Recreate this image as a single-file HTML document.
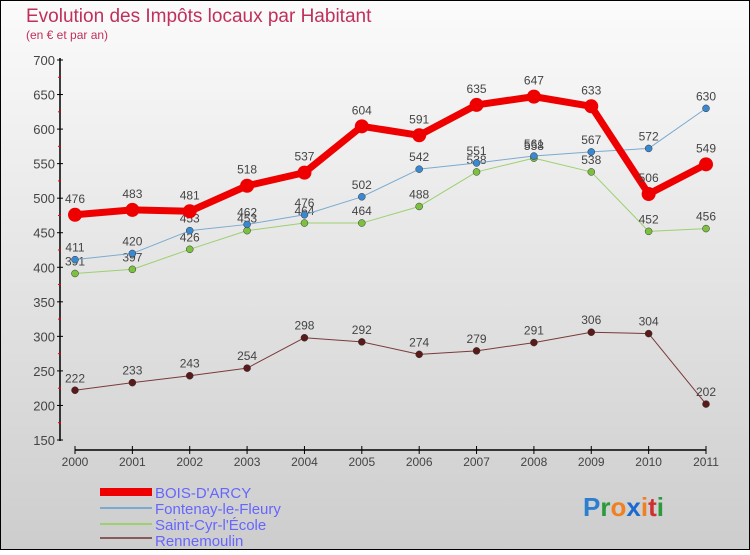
<!DOCTYPE html>
<html><head><meta charset="utf-8"><style>
body{margin:0;width:750px;height:550px;overflow:hidden;font-family:"Liberation Sans",sans-serif}
</style></head><body>
<svg id="c" width="750" height="550" xmlns="http://www.w3.org/2000/svg">
<defs><linearGradient id="bg" x1="0" y1="0" x2="0" y2="1"><stop offset="0" stop-color="#fbfbfb"/><stop offset="1" stop-color="#cdcdcd"/></linearGradient></defs>
<rect x="0.5" y="0.5" width="749" height="549" fill="url(#bg)" stroke="#000" stroke-width="1"/>
<text x="26" y="22" font-size="19" fill="#c0305a">Evolution des Impôts locaux par Habitant</text>
<text x="26" y="39" font-size="12" fill="#c0305a">(en € et par an)</text>
<g id="axes"></g><g id="series"></g>
<g font-size="15" fill="#6666ff">
<rect x="100" y="488" width="52" height="8" fill="#e00"/>
<text x="155" y="498">BOIS-D'ARCY</text>
<line x1="100" y1="508" x2="152" y2="508" stroke="#7aaad0" stroke-width="2"/>
<text x="155" y="514">Fontenay-le-Fleury</text>
<line x1="100" y1="524" x2="152" y2="524" stroke="#9cd070" stroke-width="2"/>
<text x="155" y="530">Saint-Cyr-l'École</text>
<line x1="100" y1="538" x2="152" y2="538" stroke="#8a5a5a" stroke-width="2"/>
<text x="155" y="546">Rennemoulin</text>
</g>
<g font-size="26" font-weight="bold">
<text x="583" y="516"><tspan fill="#2a7fd0">P</tspan><tspan fill="#2a9a3a">r</tspan><tspan fill="#f08020">o</tspan><tspan fill="#1a6ad0">x</tspan><tspan fill="#f08020">i</tspan><tspan fill="#d03030">t</tspan><tspan fill="#2a9a3a">i</tspan></text>
</g>
</svg>
<script>
const years=[2000,2001,2002,2003,2004,2005,2006,2007,2008,2009,2010,2011];
const yTicks=[150,200,250,300,350,400,450,500,550,600,650,700];
const boisDArcy=[476,483,481,518,537,604,591,635,647,633,506,549];
const fontenay=[411,420,453,462,476,502,542,551,561,567,572,630];
const saintCyr=[391,397,426,453,464,464,488,538,558,538,452,456];
const rennemoulin=[222,233,243,254,298,292,274,279,291,306,304,202];
const NS="http://www.w3.org/2000/svg";
const X=i=>75+i*(706-75)/11;
const Y=v=>60+(700-v)*(440-60)/550;
function mk(p,t,a){const e=document.createElementNS(NS,t);for(const k in a)e.setAttribute(k,a[k]);p.appendChild(e);return e;}
const ax=document.getElementById('axes');
mk(ax,'line',{x1:60,y1:58,x2:60,y2:441,stroke:'#000','stroke-width':1.5});
mk(ax,'line',{x1:75,y1:450,x2:706,y2:450,stroke:'#000','stroke-width':1.5});
yTicks.forEach((v,i)=>{
  mk(ax,'line',{x1:57,y1:Y(v),x2:63,y2:Y(v),stroke:'#000'});
  if(i<yTicks.length-1) mk(ax,'line',{x1:58,y1:Y(v+25),x2:61,y2:Y(v+25),stroke:'#e00'});
  const t=mk(ax,'text',{x:55,y:Y(v)+5,'text-anchor':'end','font-size':13,fill:'#444'});
  
  
  t.textContent=v;
});
years.forEach((y,i)=>{
  mk(ax,'line',{x1:X(i),y1:446,x2:X(i),y2:454,stroke:'#000'});
  const t=mk(ax,'text',{x:X(i),y:466,'text-anchor':'middle','font-size':12,fill:'#444'});
  
  
  t.textContent=y;
});
const sg=document.getElementById('series');
function draw(data,name,col,dot,w,r,lab){
  const g=mk(sg,'g',{});
  
  
  mk(g,'polyline',{points:data.map((v,i)=>X(i)+','+Y(v)).join(' '),fill:'none',stroke:col,'stroke-width':w,'stroke-linejoin':'round'});
  data.forEach((v,i)=>{
    const c=mk(g,'circle',{cx:X(i),cy:Y(v),r:r,fill:dot,stroke:w>3?'none':'#333','stroke-width':0.5});
    
    
    const t=mk(g,'text',{x:X(i),y:Y(v)-lab,'text-anchor':'middle','font-size':12,fill:'#444'});
    
    
    t.textContent=v;
  });
}
draw(rennemoulin,'rennemoulin','#7a3a3a','#5a1a1a',1,3.5,8);
draw(saintCyr,'saint-cyr','#9cd070','#7cc040',1,3.5,8);
draw(fontenay,'fontenay','#7aaad0','#3a88d0',1,3.5,8);
draw(boisDArcy,'bois-d-arcy','#e00','#e00',7,7,12);
</script>
</body></html>
